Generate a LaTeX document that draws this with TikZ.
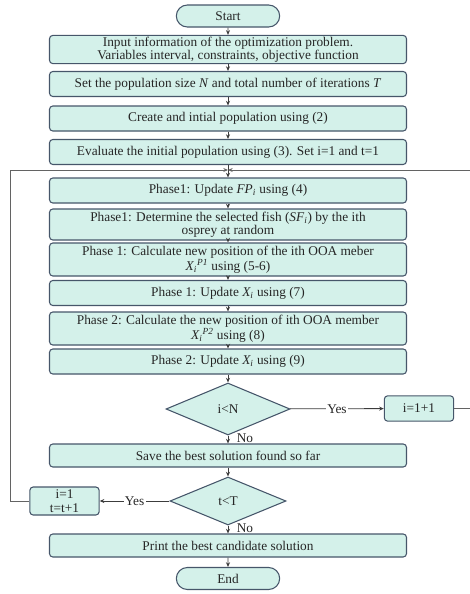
\documentclass[tikz,border=0pt]{standalone}
\usepackage{fontspec}
\setmainfont{Liberation Serif}
\usetikzlibrary{arrows.meta,positioning,shapes.geometric,shapes.misc}
\definecolor{boxfill}{RGB}{212,241,234}
\definecolor{boxline}{RGB}{70,86,106}
\definecolor{wire}{RGB}{60,60,60}
\begin{document}
\begin{tikzpicture}[x=0.75pt, y=-0.75pt,
      every node/.style={font=\fontsize{10}{10}\selectfont, text=black!85},
      box/.style={draw=boxline, fill=boxfill, rounded corners=2.5pt, thick,
                  minimum width=267.75pt, minimum height=18.75pt, align=center, inner sep=1pt},
      term/.style={draw=boxline, fill=boxfill, rounded rectangle, thick,
                   minimum width=79.5pt, minimum height=16.5pt, inner sep=1pt},
      decide/.style={draw=boxline, fill=boxfill, diamond, thick, aspect=2.4, inner sep=0pt},
      small/.style={draw=boxline, fill=boxfill, rounded corners=2.5pt, thick,
                    minimum width=52pt, minimum height=19pt, align=center, inner sep=1pt},
      arr/.style={-{Stealth[length=3.5pt,width=3pt]}, wire, semithick},
      loop/.style={-{Stealth[length=3.5pt,width=3pt]}, wire!80, semithick}
    ]
      \useasboundingbox (0,0) rectangle (469,594);
      % main column
      \node[term] (start) at (228,16) {Start};
      \node[box, minimum height=20.25pt] (input) at (228,49.5) {Input information of the optimization problem.\\Variables interval, constraints, objective function};
      \node[box] (setn) at (228,84) {Set the population size \textit{N} and total number of iterations \textit{T}};
      \node[box] (init) at (228,118.5) {Create and intial population using (2)};
      \node[box] (eval) at (228,152) {Evaluate the initial population using (3). Set i=1 and t=1};
      \coordinate (jn) at (228,170);
      \node[box] (fp) at (228,190.5) {Phase1: Update \textit{FP\textsubscript{i}} using (4)};
      \node[box, minimum height=23.25pt] (fish) at (228,224.5) {Phase1: Determine the selected fish (\textit{SF\textsubscript{i}}) by the ith\\osprey at random};
      \node[box, minimum height=24.75pt] (pos1) at (228,259.5) {Phase 1: Calculate new position of the ith OOA meber\\\textit{X\textsubscript{i}\textsuperscript{P1}} using (5-6)};
      \node[box] (upd1) at (228,293) {Phase 1: Update \textit{X\textsubscript{i}} using (7)};
      \node[box, minimum height=24.75pt] (pos2) at (228,328.5) {Phase 2: Calculate the new position of ith OOA member\\\textit{X\textsubscript{i}\textsuperscript{P2}} using (8)};
      \node[box] (upd2) at (228,361.5) {Phase 2: Update \textit{X\textsubscript{i}} using (9)};
      \node[decide, minimum width=93pt, minimum height=39pt] (ltN) at (228,409) {i<N};
      \node[small] (inc) at (419,408.5) {i=1+1};
      \node[box, minimum height=17.25pt] (save) at (228,455.5) {Save the best solution found so far};
      \node[decide, minimum width=87pt, minimum height=36pt] (ltT) at (228,501) {t<T};
      \node[small, minimum height=21pt] (reset) at (64.5,501) {i=1\\t=t+1};
      \node[box, minimum height=17.25pt] (print) at (228,545.5) {Print the best candidate solution};
      \node[term] (end) at (228,578.5) {End};
      \coordinate (lcorner) at (10,501);
      \coordinate (rcorner) at (470,408.5);
      % connectors
      \draw[arr] (start) -- (input);
      \draw[arr] (input) -- (setn);
      \draw[arr] (setn) -- (init);
      \draw[arr] (init) -- (eval);
      \draw[arr] (eval) -- (fp);
      \draw[arr] (fp) -- (fish);
      \draw[arr] (fish) -- (pos1);
      \draw[arr] (pos1) -- (upd1);
      \draw[arr] (upd1) -- (pos2);
      \draw[arr] (pos2) -- (upd2);
      \draw[arr] (upd2) -- (ltN);
      \draw[arr] (ltN) -- (inc) node[midway, fill=white, inner sep=1pt] {Yes};
      \draw[arr] (ltN) -- (save) node[pos=0.35, right=3pt] {No};
      \draw[arr] (save) -- (ltT);
      \draw[arr] (ltT) -- (reset) node[midway, fill=white, inner sep=1pt] {Yes};
      \draw[arr] (ltT) -- (print) node[pos=0.35, right=3pt] {No};
      \draw[arr] (print) -- (end);
      % loops back to the junction
      \draw[loop] (reset.west) -- (lcorner) |- (jn);
      \draw[loop] (inc.east) -- (rcorner) |- (jn);
    \end{tikzpicture}
\end{document}
